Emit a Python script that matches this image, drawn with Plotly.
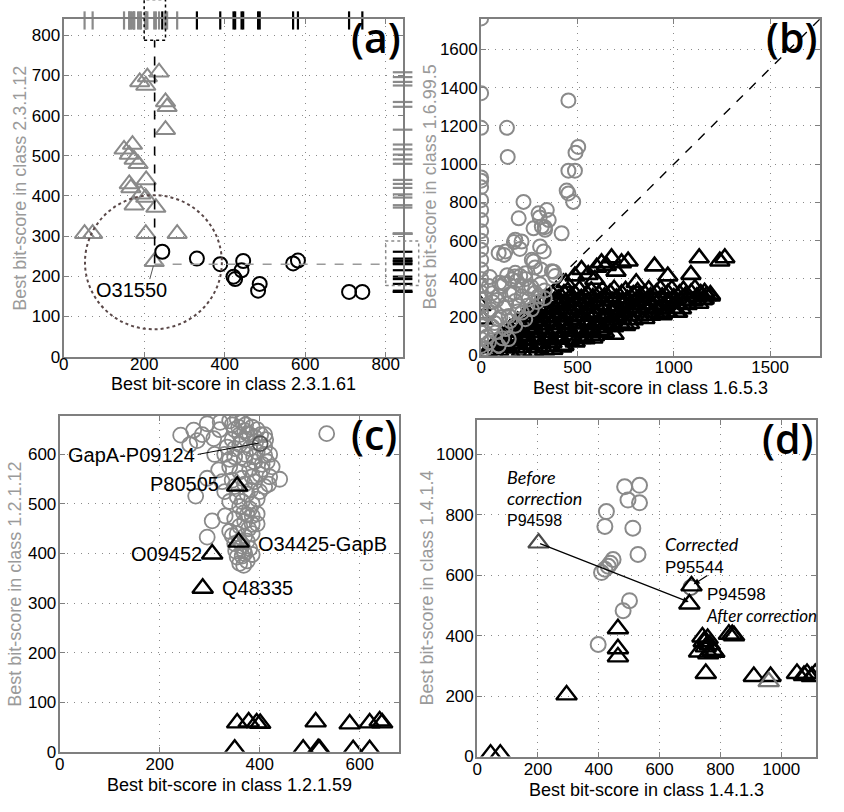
import plotly.graph_objects as go

GRAY = "#8a8a8a"
DARK = "#4a4a4a"
FONT = "Liberation Sans"

# ---------------- panel (a) ----------------
a_range_x = [0, 842]
a_range_y = [0, 840]
a_tri_x = [52, 72, 204, 282, 225, 167, 192, 204, 175, 229, 205, 163, 171, 150, 163, 175, 185,
           208, 189, 204, 237, 253, 257, 253]
a_tri_y = [306, 306, 306, 306, 236, 420, 404, 396, 377, 371, 440, 430, 528, 516, 503, 491, 480,
           696, 684, 675, 708, 634, 622, 565]
a_circ_x = [245, 331, 389, 446, 442, 422, 426, 487, 483, 570, 582, 709, 742]
a_circ_y = [261, 244, 230, 238, 215, 199, 193, 181, 164, 232, 239, 161, 161]

# ---------------- panel (b) ----------------
b_range = [0, 1760]
b_circ_x = [0, 0, 0, 0, 0, 0, 0, 0, 0, 0, 0, 0, 0, 0, 0, 0, 0, 0, 0, 0, 0, 0, 0, 0, 0, 0,
            134, 138, 453, 504, 490, 453, 487, 444, 453, 478, 220, 195, 298, 341, 351, 272, 315,
            418, 177, 210, 332, 306, 325, 126, 91, 272, 177, 203, 367, 160, 384, 306, 212, 108,
            40, 280, 91, 177, 40, 91, 143, 194, 246, 74, 126, 40, 177, 229, 263, 298, 143, 91,
            22, 212, 60, 120, 150, 230, 260, 330, 60, 110, 304, 330, 170, 119, 201, 263, 175,
            377, 119, 57, 30, 70, 100, 150, 190, 240, 290, 330, 20, 50, 80, 130, 170, 210, 250,
            45, 95, 135, 185, 230, 280, 310]
b_circ_y = [1762, 1371, 1190, 931, 914, 880, 812, 760, 708, 650, 600, 553, 500, 449, 400, 363,
            330, 294, 260, 225, 190, 156, 120, 86, 50, 20,
            1190, 1038, 1333, 1090, 1060, 966, 966, 862, 847, 803, 803, 717, 743, 760, 708, 665,
            674, 639, 605, 596, 657, 570, 544, 544, 536, 492, 432, 415, 441, 397, 415, 372, 363,
            363, 363, 328, 311, 285, 225, 190, 207, 259, 294, 121, 138, 69, 156, 190, 242, 311,
            86, 52, 35, 225, 280, 250, 320, 400, 360, 300, 150, 90, 722, 671, 593, 526, 557, 500,
            413, 438, 377, 325, 100, 170, 200, 180, 230, 260, 280, 340, 300, 240, 290, 270, 330,
            310, 350, 410, 380, 420, 390, 430, 460, 450]
b_tri_x = [30, 90, 150, 210, 270, 330, 372,
           60, 120, 180, 240, 300, 360, 420,
           70, 130, 190, 250, 312, 368, 430, 488, 540,
           100, 160, 220, 280, 340, 400, 460, 520, 580,
           110, 172, 230, 290, 352, 410, 470, 532, 590, 640, 690,
           140, 200, 260, 320, 380, 440, 500, 560, 620,
           150, 208, 270, 330, 392, 450, 512, 570, 630, 688, 750,
           180, 240, 300, 360, 420, 480, 540, 600, 660, 720, 770,
           190, 250, 312, 370, 430, 492, 550, 610, 672, 730, 790, 850,
           220, 280, 340, 400, 460, 520, 580, 640, 700, 760, 820, 880, 940,
           240, 300, 362, 420, 480, 542, 600, 662, 720, 780, 842, 900, 960, 1012,
           270, 330, 390, 450, 510, 570, 630, 690, 750, 810, 870, 930, 990, 1040,
           290, 350, 410, 472, 530, 590, 652, 710, 770, 832, 890, 950, 1010, 1070, 1130,
           320, 380, 440, 500, 560, 620, 680, 740, 800, 860, 920, 980, 1040, 1100, 1150,
           340, 400, 462, 520, 580, 640, 702, 760, 820, 880, 940, 1000, 1060, 1120, 1170,
           370, 430, 490, 550, 610, 670, 730, 790, 850, 910, 970, 1030, 1090, 1140, 1190,
           390, 450, 510, 572, 630, 690, 750, 812, 870, 930, 990, 1050, 1110, 1160,
           487, 521, 556, 590, 625, 677, 729, 763, 900, 1132, 1239, 1265, 1089, 969, 805,
           700, 650, 600, 440, 1158, 1190, 0, 10, 935, 1020, 866, 969]
b_tri_y = [18, 24, 15, 22, 20, 26, 30,
           40, 44, 38, 42, 40, 46, 44,
           62, 55, 64, 58, 60, 66, 52, 70, 86,
           80, 84, 78, 82, 80, 86, 84, 88, 90,
           100, 95, 104, 98, 102, 96, 106, 100, 104, 121, 110,
           120, 124, 118, 122, 120, 126, 124, 118, 130,
           140, 136, 144, 138, 142, 146, 138, 140, 144, 150, 156,
           160, 164, 158, 162, 160, 166, 164, 158, 162, 168, 166,
           180, 176, 184, 178, 182, 186, 180, 174, 184, 190, 186, 192,
           200, 204, 198, 202, 200, 206, 204, 198, 202, 208, 206, 210, 212,
           220, 216, 224, 218, 222, 226, 220, 214, 224, 230, 226, 225, 226, 225,
           240, 244, 238, 242, 240, 246, 244, 238, 242, 248, 246, 242, 246, 244,
           260, 256, 264, 258, 262, 266, 260, 254, 264, 268, 266, 262, 270, 266, 272,
           280, 284, 278, 282, 280, 286, 284, 278, 282, 288, 286, 282, 288, 284, 290,
           300, 296, 304, 298, 302, 306, 300, 294, 304, 308, 306, 302, 310, 306, 312,
           320, 324, 318, 322, 320, 326, 324, 318, 322, 328, 326, 322, 328, 324, 318,
           340, 336, 344, 338, 342, 346, 340, 334, 344, 348, 346, 342, 350, 330,
           415, 449, 423, 397, 484, 510, 484, 493, 467, 510, 493, 510, 423, 415, 380,
           440, 470, 460, 380, 294, 310, 260, 190, 242, 225, 242, 225]

# ---------------- panel (c) ----------------
c_range = [0, 678]
c_circ_x = [242, 268, 295, 321, 275, 308, 340, 355, 365, 372, 385, 395, 350, 360, 375, 390, 345,
            335, 360, 380, 395, 410, 420, 330, 350, 370, 390, 405, 318, 340, 360, 380, 400, 420,
            440, 295, 325, 345, 370, 390, 410, 272, 330, 355, 375, 395, 360, 380, 395, 350, 370,
            305, 331, 295, 340, 355, 370, 385, 350, 365, 380, 365, 375, 360, 534, 320, 310, 340,
            368, 385, 385, 345, 368, 355, 368, 410, 415,
            345, 358, 370, 380, 392, 402, 412, 365, 350, 372, 388, 410, 425, 405, 385, 365, 350,
            382, 400, 418, 340, 365, 385, 375, 360, 378, 395, 360, 375, 352, 370, 385, 260, 285]
c_circ_y = [639, 649, 662, 665, 628, 632, 668, 672, 665, 660, 655, 650, 650, 640, 642, 635, 630,
            615, 620, 612, 605, 615, 600, 600, 595, 590, 585, 580, 569, 575, 565, 570, 560, 555,
            550, 552, 545, 548, 540, 545, 535, 516, 525, 515, 520, 510, 495, 490, 480, 470, 465,
            466, 476, 433, 445, 440, 435, 440, 420, 415, 410, 395, 385, 380, 642, 650, 600, 590,
            482, 476, 459, 436, 406, 393, 376, 640, 585,
            660, 655, 648, 640, 625, 640, 630, 628, 612, 600, 595, 598, 575, 570, 555, 552, 535,
            528, 525, 540, 505, 505, 500, 478, 455, 450, 460, 425, 425, 405, 400, 398, 620, 640]
c_key_x = [401]
c_key_y = [622]
c_tri_x = [355, 358, 305, 286, 355, 378, 394, 401, 512, 580, 620, 640, 645, 350, 487, 517, 520,
           587, 620]
c_tri_y = [536, 423, 399, 330, 58, 60, 58, 57, 60, 56, 58, 62, 58, 5, 5, 6, 5, 4, 4]

# ---------------- panel (d) ----------------
d_range = [0, 1115]
d_circ_x = [485, 534, 496, 534, 425, 420, 512, 447, 431, 409, 529, 501, 480, 398, 438, 420]
d_circ_y = [893, 898, 849, 840, 811, 762, 756, 652, 630, 609, 669, 516, 483, 371, 640, 620]
d_key_circ_x = [703]
d_key_circ_y = [560]
d_tri_x = [698, 705, 463, 463, 463, 294, 44, 76, 741, 758, 752, 730, 774, 752, 745, 765, 780,
           760, 828, 839, 845, 910, 965, 1052, 1085, 1112, 1101, 1075]
d_tri_y = [505, 565, 423, 357, 330, 204, 8, 8, 396, 391, 363, 346, 352, 275, 380, 370, 345, 340,
           405, 404, 400, 265, 265, 275, 275, 275, 265, 268]
d_gray_tri_x = [959]
d_gray_tri_y = [248]
d_before_x = [202]
d_before_y = [707]

fig = go.Figure()


def pts(x, y, ax, symbol, size, color, width):
    fig.add_trace(go.Scatter(
        x=x, y=y, xaxis="x" + ax, yaxis="y" + ax, mode="markers", showlegend=False,
        hoverinfo="skip",
        marker=dict(symbol=symbol, size=size, color="rgba(255,255,255,0)",
                    line=dict(color=color, width=width)),
    ))


def rug(x, y, ax, symbol, size, color):
    fig.add_trace(go.Scatter(
        x=x, y=y, xaxis="x" + ax, yaxis="y" + ax, mode="markers", showlegend=False,
        hoverinfo="skip", cliponaxis=False,
        marker=dict(symbol=symbol, size=size, line=dict(color=color, width=2.2)),
    ))


# (a)
pts(a_tri_x, a_tri_y, "", "triangle-up", 17, GRAY, 2)
pts(a_circ_x, a_circ_y, "", "circle", 14, "black", 2)
rug(a_tri_x, [a_range_y[1] - 3] * len(a_tri_x), "", "line-ns", 13, GRAY)
rug(a_circ_x, [a_range_y[1] - 3] * len(a_circ_x), "", "line-ns", 13, "black")
rug([a_range_x[1]] * len(a_tri_y), a_tri_y, "", "line-ew", 14, GRAY)
rug([a_range_x[1]] * len(a_circ_y), a_circ_y, "", "line-ew", 14, "black")

# (b)
fig.add_trace(go.Scatter(x=b_range, y=b_range, xaxis="x2", yaxis="y2", mode="lines",
                         showlegend=False, hoverinfo="skip",
                         line=dict(color="black", width=1.4, dash="dash")))
pts(b_tri_x, b_tri_y, "2", "triangle-up", 17, "black", 2.6)
pts(b_circ_x, b_circ_y, "2", "circle", 14, GRAY, 2)

# (c)
pts(c_circ_x, c_circ_y, "3", "circle", 15, GRAY, 1.8)
pts(c_key_x, c_key_y, "3", "circle", 15, "#555555", 1.8)
pts(c_tri_x, c_tri_y, "3", "triangle-up", 18, "black", 2.4)

# (d)
pts(d_circ_x, d_circ_y, "4", "circle", 15, GRAY, 2)
pts(d_key_circ_x, d_key_circ_y, "4", "circle", 15, "#666666", 2)
pts(d_tri_x, d_tri_y, "4", "triangle-up", 18, "black", 2.4)
pts(d_gray_tri_x, d_gray_tri_y, "4", "triangle-up", 18, "#777777", 2.4)
pts(d_before_x, d_before_y, "4", "triangle-up", 18, DARK, 2.2)


def axis(domain, rng, dtick, anchor, standoff):
    return dict(
        domain=domain, range=rng, dtick=dtick, anchor=anchor, autorange=False,
        showline=True, linecolor="#7f7f7f", linewidth=2, mirror="ticks",
        ticks="inside", ticklen=5, tickcolor="#7f7f7f", tickwidth=1,
        showgrid=True, gridcolor="#8a8a8a", griddash="1px,6px", gridwidth=1, zeroline=False,
        tickfont=dict(family=FONT, size=17, color="black"), ticklabelstandoff=standoff,
    )


fig.update_layout(
    width=844, height=812, margin=dict(l=0, r=0, t=0, b=0),
    paper_bgcolor="white", plot_bgcolor="white",
    xaxis=axis([0.0699, 0.4739], a_range_x, 200, "y", -9),
    yaxis=axis([0.5554, 0.976], a_range_y, 100, "x", -2),
    xaxis2=axis([0.5675, 0.9716], b_range, 500, "y2", -5),
    yaxis2=axis([0.5567, 0.9766], b_range, 200, "x2", -2),
    xaxis3=axis([0.0652, 0.4692], c_range, 200, "y3", -4),
    yaxis3=axis([0.0628, 0.4815], c_range, 100, "x3", -2),
    xaxis4=axis([0.5628, 0.9668], d_range, 200, "y4", -4),
    yaxis4=axis([0.0567, 0.4766], d_range, 200, "x4", -2),
)


def frac(v, rng):
    return (v - rng[0]) / (rng[1] - rng[0])


shapes = [
    # (a) dotted circle around the misclassified enzyme
    dict(type="circle", xref="x", yref="y", x0=53, x1=393, y0=68, y1=402,
         line=dict(color="#5a4848", width=2, dash="dot")),
    # (a) projection lines
    dict(type="line", xref="x", yref="y", x0=226, x1=226, y0=232, y1=788,
         line=dict(color="black", width=1.6, dash="dash")),
    dict(type="line", xref="x", yref="y", x0=226, x1=800, y0=230, y1=230,
         line=dict(color="#9a9a9a", width=1.6, dash="dash")),
    # (a) dotted boxes on the rugs
    dict(type="rect", xref="x domain", yref="y domain",
         x0=frac(200, a_range_x), x1=frac(253, a_range_x),
         y0=frac(788, a_range_y), y1=frac(889, a_range_y),
         line=dict(color="black", width=1.5, dash="dot")),
    dict(type="rect", xref="x domain", yref="y domain",
         x0=frac(800, a_range_x), x1=frac(882, a_range_x),
         y0=frac(177, a_range_y), y1=frac(288, a_range_y),
         line=dict(color="#8a8a8a", width=1.5, dash="dot")),
    # (a) leader of O31550
    dict(type="line", xref="x", yref="y", x0=214, x1=223, y0=193, y1=226,
         line=dict(color="#555555", width=1)),
    # (c) leader of GapA-P09124
    dict(type="line", xref="x3", yref="y3", x0=276, x1=398, y0=600, y1=623,
         line=dict(color="black", width=1)),
]

ann = []
for ax, lab in [("", "(a)"), ("2", "(b)"), ("3", "(c)"), ("4", "(d)")]:
    ann.append(dict(xref="x" + ax + " domain", yref="y" + ax + " domain", x=1.0, y=1.0,
                    xanchor="right", yanchor="top", yshift=12, showarrow=False, text=lab,
                    font=dict(family="Open Sans", size=41, color="black", weight=600)))

# axis titles: (axis suffix, x title, x-title offset, y title, y-title offset)
titles = [
    ("", "Best bit-score in class 2.3.1.61", -0.082, "Best bit-score in class 2.3.1.12", -0.129),
    ("2", "Best bit-score in class 1.6.5.3", -0.097, "Best bit-score in class 1.6.99.5", -0.15),
    ("3", "Best bit-score in class 1.2.1.59", -0.1, "Best bit-score in class 1.2.1.12", -0.132),
    ("4", "Best bit-score in class 1.4.1.3", -0.1, "Best bit-score in class 1.4.1.4", -0.147),
]
for ax, xt, xo, yt, yo in titles:
    ann.append(dict(xref="x" + ax + " domain", yref="y" + ax + " domain", x=0.5, y=xo,
                    xanchor="center", yanchor="middle", showarrow=False, text=xt,
                    font=dict(family=FONT, size=18, color="black")))
    ann.append(dict(xref="x" + ax + " domain", yref="y" + ax + " domain", x=yo, y=0.5,
                    xanchor="center", yanchor="middle", showarrow=False, text=yt,
                    textangle=-90, font=dict(family=FONT, size=18, color="#9a9a9a")))


def label(ax, x, y, text, xanchor="left", size=20):
    ann.append(dict(xref="x" + ax, yref="y" + ax, x=x, y=y, text=text, showarrow=False,
                    xanchor=xanchor, yanchor="middle", align="left",
                    font=dict(family=FONT, size=size, color="black")))


def it(text, size):
    return ('<span style="font-family:Lato;font-style:italic;font-size:%dpx">%s</span>'
            % (size, text))


label("", 168, 167, "O31550", "center")
label("3", 275, 599, "GapA-P09124", "right")
label("3", 322, 540, "P80505", "right")
label("3", 392, 420, "O34425-GapB", "left")
label("3", 288, 400, "O09452", "right")
label("3", 320, 330, "Q48335", "left")
label("4", 92, 858, it("Before", 18) + "<br>" + it("correction", 18) + "<br>P94598", "left", 16)
label("4", 611, 668, it("Corrected", 18) + "<br>P95544", "left", 17)
label("4", 745, 500, "P94598<br>" + it("After correction", 17), "left", 17)

ann.append(dict(xref="x4", yref="y4", axref="x4", ayref="y4", x=696, y=512, ax=202, ay=707,
                text="", showarrow=True, arrowhead=2, arrowsize=1, arrowwidth=1.2,
                arrowcolor="black"))
ann.append(dict(xref="x4", yref="y4", axref="x4", ayref="y4", x=712, y=570, ax=762, ay=603,
                text="", showarrow=True, arrowhead=2, arrowsize=1, arrowwidth=1.2,
                arrowcolor="black"))

fig.update_layout(shapes=shapes, annotations=ann)

fig.write_html("out.html", config={"displayModeBar": False},
               post_script="document.body.style.margin='0';")
